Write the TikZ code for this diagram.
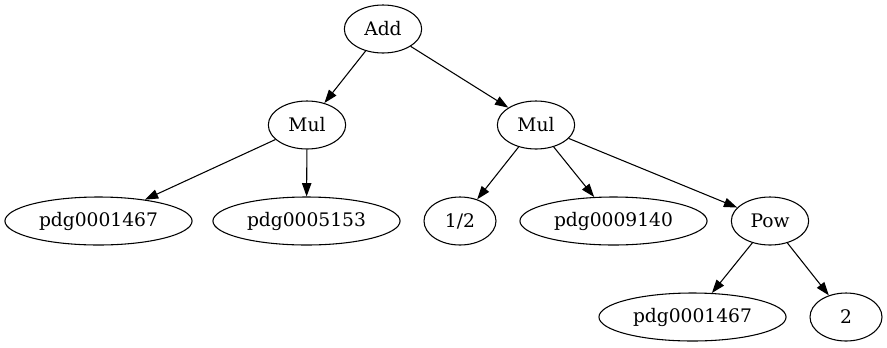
\documentclass[tikz,border=0pt]{standalone}
\usepackage{fontspec}
\setmainfont{DejaVu Serif}
\usepackage{tikz}
\usetikzlibrary{shapes.geometric, arrows.meta}

\begin{document}
\begin{tikzpicture}[x=0.75pt, y=-0.75pt,
    leaf/.style={draw, ellipse, line width=0.8pt, minimum width=54pt, minimum height=36pt,
                 inner xsep=5pt, font=\fontsize{14pt}{17pt}\selectfont},
    op/.style={leaf, minimum width=58pt},
    edge/.style={-{Triangle[length=10pt, width=7pt]}, line width=0.8pt}]
    \useasboundingbox (0,0) rectangle (887,347);

    % Root
    \node[op] (add) at (383,29) {Add};

    % Products
    \node[op] (mul1) at (307,125) {Mul};
    \node[op] (mul2) at (536,125) {Mul};

    % Factors
    \node[leaf] (pdg1) at (98.5,221) {pdg0001467};
    \node[leaf] (pdg2) at (306.5,221) {pdg0005153};
    \node[leaf] (half) at (460,221) {1/2};
    \node[leaf] (pdg3) at (613.5,221) {pdg0009140};
    \node[op] (pow) at (770,221) {Pow};

    % Power arguments
    \node[leaf] (pdg4) at (692.5,317) {pdg0001467};
    \node[leaf] (two) at (846,317) {2};

    % Edges
    \draw[edge] (add) -- (mul1);
    \draw[edge] (add) -- (mul2);
    \draw[edge] (mul1) -- (pdg1);
    \draw[edge] (mul1) -- (pdg2);
    \draw[edge] (mul2) -- (half);
    \draw[edge] (mul2) -- (pdg3);
    \draw[edge] (mul2) -- (pow);
    \draw[edge] (pow) -- (pdg4);
    \draw[edge] (pow) -- (two);
\end{tikzpicture}
\end{document}
